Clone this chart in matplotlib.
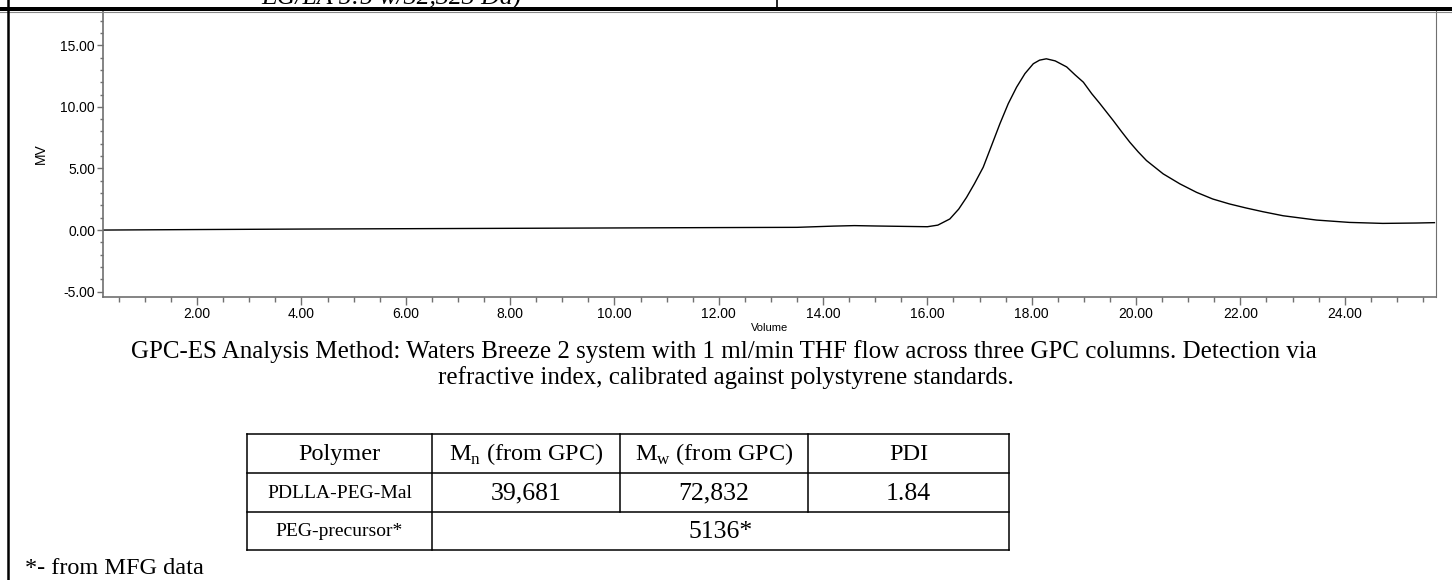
import matplotlib.pyplot as plt
from matplotlib.ticker import MultipleLocator, FormatStrFormatter

plt.rcParams['font.family'] = ['Liberation Sans', 'DejaVu Sans']
plt.rcParams['axes.unicode_minus'] = False
plt.rcParams['mathtext.fontset'] = 'custom'
plt.rcParams['mathtext.rm'] = 'Liberation Serif'

# GPC trace (volume in ml, signal in MV)
volume = [0.2, 2.0, 4.0, 6.0, 8.0, 10.0, 12.0, 13.5, 14.2, 14.6, 15.0, 15.5,
          16.0, 16.2, 16.43, 16.6, 16.75, 16.9, 17.07, 17.23, 17.39, 17.55,
          17.71, 17.87, 18.03, 18.15, 18.28, 18.45, 18.67, 18.83, 18.99,
          19.15, 19.30, 19.43, 19.56, 19.72, 19.88, 20.04, 20.20, 20.52,
          20.84, 21.16, 21.47, 21.79, 22.11, 22.43, 22.82, 23.46, 24.09,
          24.73, 25.37, 25.72]
mv = [0.0, 0.04, 0.08, 0.11, 0.14, 0.17, 0.2, 0.22, 0.32, 0.36, 0.33, 0.3,
      0.27, 0.4, 0.9, 1.7, 2.65, 3.75, 5.1, 6.86, 8.63, 10.26,
      11.6, 12.7, 13.5, 13.79, 13.9, 13.73, 13.24, 12.6, 12.0,
      11.07, 10.3, 9.6, 8.9, 8.0, 7.13, 6.35, 5.64, 4.56,
      3.75, 3.06, 2.52, 2.12, 1.79, 1.49, 1.16, 0.81, 0.62,
      0.54, 0.57, 0.6]

# document text around the chart
top_text = "EG/LA 5:5 w/32,323 Da)"
caption_lines = ["GPC-ES Analysis Method: Waters Breeze 2 system with 1 ml/min THF flow across three GPC columns. Detection via",
                 "refractive index, calibrated against polystyrene standards."]
table_header = ["Polymer", "M$_\\mathrm{n}$ (from GPC)", "M$_\\mathrm{w}$ (from GPC)", "PDI"]
row_polymer = ["PDLLA-PEG-Mal", "39,681", "72,832", "1.84"]
row_precursor = ["PEG-precursor*", "5136*"]
footnote = "*- from MFG data"

W, H = 1452, 580
fig = plt.figure(figsize=(W / 100, H / 100), dpi=100)

# chromatogram panel
left, right, top, bottom = 102.7, 1436, 11, 296.7
ax = fig.add_axes([left / W, 1 - bottom / H, (right - left) / W, (bottom - top) / H])
ax.plot(volume, mv, color='black', lw=1.0)
ax.set_xlim(0.19, 25.75)
ax.set_ylim(-5.41, 17.78)
ax.xaxis.set_major_locator(MultipleLocator(2))
ax.xaxis.set_minor_locator(MultipleLocator(0.5))
ax.yaxis.set_major_locator(MultipleLocator(5))
ax.yaxis.set_minor_locator(MultipleLocator(1))
ax.xaxis.set_major_formatter(FormatStrFormatter('%.2f'))
ax.yaxis.set_major_formatter(FormatStrFormatter('%.2f'))
gray = '#707070'
for s in ['left', 'bottom', 'right']:
    ax.spines[s].set_color(gray)
    ax.spines[s].set_linewidth(1.2)
ax.spines['top'].set_visible(False)
ax.spines['right'].set_linewidth(0.8)
ax.tick_params(axis='x', which='major', length=6, width=1, color=gray, pad=1.5, labelsize=10)
ax.tick_params(axis='x', which='minor', length=3.5, width=1, color=gray)
ax.tick_params(axis='y', which='major', length=4, width=1, color=gray, pad=1.5, labelsize=10)
ax.tick_params(axis='y', which='minor', length=2, width=1, color=gray)
ax.set_xlabel("Volume", fontsize=8, labelpad=1.5)
ax.set_ylabel("MV", fontsize=10)
ax.yaxis.set_label_coords((48 - left) / (right - left), 0.5)

# overlay in pixel coordinates for the page elements
ov = fig.add_axes([0, 0, 1, 1], zorder=5)
ov.set_xlim(0, W)
ov.set_ylim(H, 0)
ov.set_axis_off()

serif = 'Liberation Serif'
ov.text(391, 5, top_text, family=serif, style='italic', fontsize=18.5, ha='center', va='baseline')
ov.fill_between([0, W], 6.7, 11, color='black', lw=0)
ov.plot([0, W], [11.8, 11.8], color='#888888', lw=0.8)
ov.plot([777, 777], [0, 7], color='black', lw=1.2)
ov.plot([8.2, 8.2], [0, H], color='black', lw=1.8)

ov.text(724, 352, caption_lines[0], family=serif, fontsize=18, ha='center', va='center')
ov.text(726, 378, caption_lines[1], family=serif, fontsize=18, ha='center', va='center')

# table grid
tx = [247, 432, 620, 808, 1009]
ty = [434, 473, 512, 550]
lw = 1.1
for y in ty:
    ov.plot([tx[0], tx[-1]], [y, y], color='black', lw=lw)
ov.plot([tx[0], tx[0]], [ty[0], ty[3]], color='black', lw=lw)
ov.plot([tx[-1], tx[-1]], [ty[0], ty[3]], color='black', lw=lw)
ov.plot([tx[1], tx[1]], [ty[0], ty[3]], color='black', lw=lw)
for x in tx[2:4]:
    ov.plot([x, x], [ty[0], ty[2]], color='black', lw=lw)

for i, label in enumerate(table_header):
    ov.text((tx[i] + tx[i + 1]) / 2, (ty[0] + ty[1]) / 2 + 1, label, family=serif,
            fontsize=17.5, ha='center', va='center')
for i, label in enumerate(row_polymer):
    ov.text((tx[i] + tx[i + 1]) / 2, (ty[1] + ty[2]) / 2 + 1, label, family=serif,
            fontsize=14 if i == 0 else 18.5, ha='center', va='center')
ov.text((tx[0] + tx[1]) / 2, (ty[2] + ty[3]) / 2 + 1, row_precursor[0], family=serif,
        fontsize=14, ha='center', va='center')
ov.text((tx[1] + tx[-1]) / 2, (ty[2] + ty[3]) / 2 + 1, row_precursor[1], family=serif,
        fontsize=18.5, ha='center', va='center')

ov.text(25, 568, footnote, family=serif, fontsize=17.5, ha='left', va='center')

fig.savefig("out.png", dpi=100)
